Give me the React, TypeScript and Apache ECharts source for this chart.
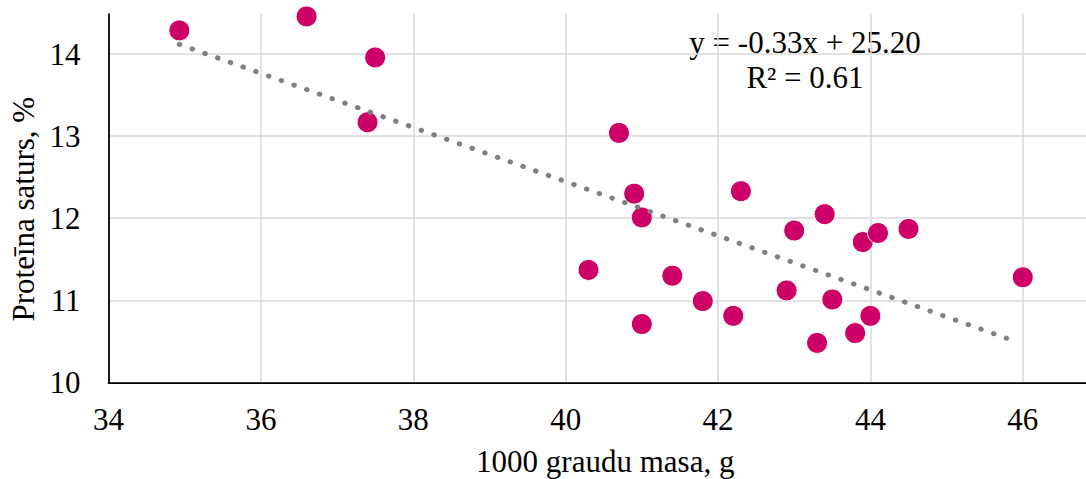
import React, { useEffect, useRef } from "react";
import * as echarts from "echarts";

const massX: number[] = [34.93, 36.6, 37.5, 37.4, 40.7, 40.9, 41.0, 42.3, 43.4, 43.0, 43.9, 44.1, 44.5, 40.3, 41.4, 41.8, 41.0, 42.2, 42.9, 43.5, 43.3, 43.8, 44.0, 46.0];
const proteinY: number[] = [14.29, 14.46, 13.96, 13.17, 13.04, 12.3, 12.01, 12.33, 12.05, 11.85, 11.71, 11.82, 11.87, 11.37, 11.3, 10.99, 10.71, 10.81, 11.12, 11.01, 10.48, 10.6, 10.81, 11.28];
const trendStart: number[] = [34.93, 14.12];
const trendEnd: number[] = [45.87, 10.51];
const equationLines: string[] = ["y = -0.33x + 25.20", "R² = 0.61"];
const xTitle = "1000 graudu masa, g";
const yTitle = "Proteīna saturs, %";

const FONT = "'Liberation Serif', 'Times New Roman', serif";
const FS = 31;

export default function App() {
  const ref = useRef<HTMLDivElement>(null);
  useEffect(() => {
    if (!ref.current) return;
    const chart = echarts.init(ref.current, undefined, { renderer: "svg" });
    const points = massX.map((x, i) => [x, proteinY[i]]);
    chart.setOption({
      animation: false,
      backgroundColor: "#ffffff",
      grid: { left: 108.5, right: 0, top: 14, bottom: 96.7, containLabel: false, outerBoundsMode: "none" },
      xAxis: {
        type: "value",
        min: 34,
        max: 46.83,
        interval: 2,
        name: xTitle,
        nameLocation: "middle",
        nameGap: 64,
        nameTextStyle: { fontFamily: FONT, fontSize: FS, color: "#000", padding: [0, 0, 0, 16] },
        axisLine: { show: true, lineStyle: { color: "#000", width: 1.75 } },
        axisTick: { show: false },
        axisLabel: { fontFamily: FONT, fontSize: FS, color: "#000", margin: 22, showMaxLabel: false },
        splitLine: { show: true, showMaxLine: false, lineStyle: { color: "#d9d9d9", width: 1.5 } },
      },
      yAxis: {
        type: "value",
        min: 10,
        max: 14.49,
        interval: 1,
        name: yTitle,
        nameLocation: "middle",
        nameGap: 67,
        nameTextStyle: { fontFamily: FONT, fontSize: FS, color: "#000", padding: [0, 22, 0, 0] },
        axisLine: { show: true, lineStyle: { color: "#000", width: 1.75 } },
        axisTick: { show: false },
        axisLabel: { fontFamily: FONT, fontSize: FS, color: "#000", margin: 28, showMaxLabel: false },
        splitLine: { show: true, showMaxLine: false, lineStyle: { color: "#d9d9d9", width: 1.5 } },
      },
      series: [
        {
          type: "scatter",
          data: points,
          symbol: "circle",
          symbolSize: 21,
          itemStyle: { color: "#cc0066", opacity: 1, borderColor: "#ffffff", borderWidth: 1 },
          z: 2,
        },
        {
          type: "line",
          data: [trendStart, trendEnd],
          symbol: "none",
          lineStyle: { color: "#808080", width: 5, type: [0.5, 13], cap: "round" },
          z: 3,
        },
      ],
      graphic: [
        {
          type: "text",
          x: 805,
          y: 42,
          style: { text: equationLines[0], font: `${FS}px ${FONT}`, fill: "#000", textAlign: "center", textVerticalAlign: "middle" },
        },
        {
          type: "text",
          x: 805,
          y: 77,
          style: { text: equationLines[1], font: `${FS}px ${FONT}`, fill: "#000", textAlign: "center", textVerticalAlign: "middle" },
        },
      ],
    });
    return () => chart.dispose();
  }, []);
  return <div ref={ref} style={{ position: "fixed", left: 0, top: 0, width: 1086, height: 479 }} />;
}
